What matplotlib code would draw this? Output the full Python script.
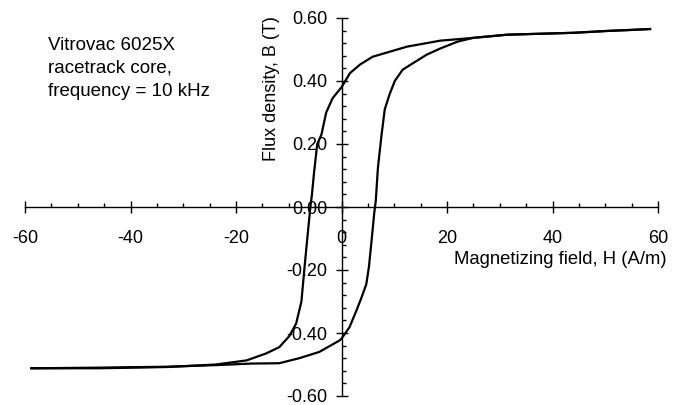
import matplotlib
matplotlib.use('Agg')
import matplotlib.pyplot as plt
from matplotlib.ticker import MultipleLocator, FormatStrFormatter

plt.rcParams['font.family'] = ['Liberation Sans', 'DejaVu Sans']
plt.rcParams['axes.unicode_minus'] = False

# descending branch (from +H saturation to -H saturation)
h_down = [58.5, 55, 50.5, 44, 37.7, 31.4, 25, 18.7, 12.4, 5.9, 3.5, 1.6, 0, -0.4,
          -1.7, -2.9, -3.8, -4.6, -5.2, -5.6, -5.9, -6.4, -7.0, -7.6, -8.6, -9.9,
          -11.8, -14.3, -18, -23.8, -33, -46, -58.8]
b_down = [0.565, 0.562, 0.559, 0.553, 0.550, 0.547, 0.537, 0.528, 0.509, 0.477, 0.452,
          0.425, 0.38, 0.372, 0.345, 0.30, 0.23, 0.20, 0.11, 0.04, 0.0, -0.085, -0.19,
          -0.30, -0.37, -0.41, -0.445, -0.465, -0.487, -0.50, -0.508, -0.512, -0.512]

# ascending branch (from -H saturation to +H saturation)
h_up = [-58.8, -46, -33, -23.8, -17, -11.8, -8, -4.2, -0.4, 0, 1.5, 2.8, 3.8, 4.7,
        5.2, 5.7, 6.2, 6.5, 6.9, 7.6, 8.2, 9.1, 10.1, 11.6, 13.5, 16.2, 18.7, 22, 25,
        31.4, 37.7, 44, 50.5, 58.5]
b_up = [-0.512, -0.510, -0.507, -0.502, -0.497, -0.496, -0.48, -0.46, -0.424, -0.418,
        -0.382, -0.33, -0.287, -0.245, -0.19, -0.107, -0.02, 0.02, 0.124, 0.23, 0.31,
        0.357, 0.40, 0.436, 0.456, 0.484, 0.503, 0.525, 0.537, 0.547, 0.550, 0.553,
        0.559, 0.565]

fig = plt.figure(figsize=(6.79, 4.05), dpi=100)
ax = fig.add_axes([25 / 679, 1 - 396 / 405, 633 / 679, 378 / 405])

ax.plot(h_down, b_down, color='black', lw=1.6)
ax.plot(h_up, b_up, color='black', lw=1.6)

ax.set_xlim(-60, 60)
ax.set_ylim(-0.6, 0.6)

ax.spines['left'].set_position(('data', 0))
ax.spines['bottom'].set_position(('data', 0))
ax.spines['top'].set_visible(False)
ax.spines['right'].set_visible(False)
for s in ['left', 'bottom']:
    ax.spines[s].set_linewidth(1.0)

ax.xaxis.set_major_locator(MultipleLocator(20))
ax.xaxis.set_minor_locator(MultipleLocator(5))
ax.yaxis.set_major_locator(MultipleLocator(0.2))
ax.yaxis.set_minor_locator(MultipleLocator(0.04))
ax.xaxis.set_major_formatter(FormatStrFormatter('%d'))
ax.yaxis.set_major_formatter(FormatStrFormatter('%.2f'))

ax.tick_params(axis='x', which='major', direction='inout', length=8.5, width=1,
               pad=12, labelsize=13)
ax.tick_params(axis='y', which='major', direction='inout', length=8.5, width=1,
               pad=6, labelsize=13)
ax.tick_params(which='minor', direction='in', length=3, width=1)

ax.text(-13.2, 0.606, 'Flux density, B (T)', rotation=90, ha='center', va='top',
        fontsize=13)
ax.text(61.7, -0.168, 'Magnetizing field, H (A/m)', ha='right', va='center',
        fontsize=13.3)

fig.text(48 / 679, 1 - 37 / 405,
         'Vitrovac 6025X\nracetrack core,\nfrequency = 10 kHz',
         ha='left', va='top', fontsize=13.5, linespacing=1.45)

fig.savefig('out.png', dpi=100)
